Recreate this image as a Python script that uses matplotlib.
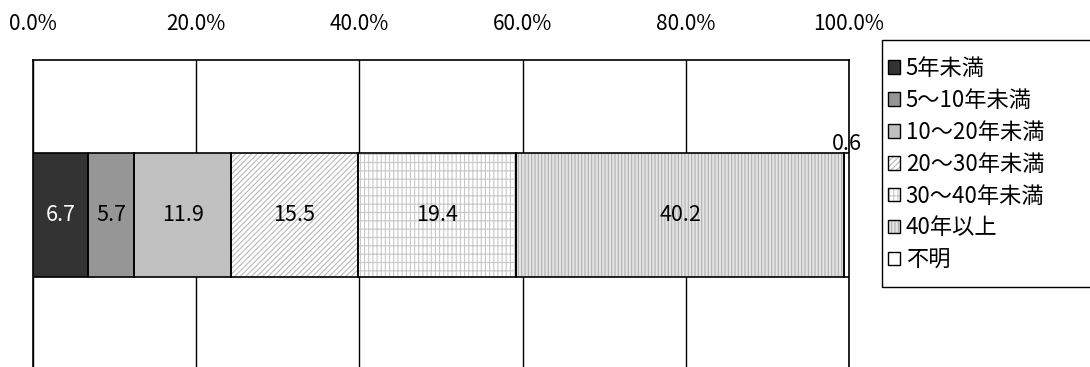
import matplotlib
matplotlib.use("Agg")
import matplotlib.pyplot as plt
from matplotlib.patches import Patch, Rectangle
import numpy as np

plt.rcParams['font.family'] = ['Noto Sans CJK JP', 'DejaVu Sans']
plt.rcParams['hatch.linewidth'] = 0.8

# data
categories = ['5年未満', '5～10年未満', '10～20年未満', '20～30年未満', '30～40年未満', '40年以上', '不明']
values = [6.7, 5.7, 11.9, 15.5, 19.4, 40.2, 0.6]
tick_vals = [0, 20, 40, 60, 80, 100]
tick_labels = ['0.0%', '20.0%', '40.0%', '60.0%', '80.0%', '100.0%']

# fill styles: facecolor, hatch, hatch colour
faces = ['#333333', '#969696', '#c0c0c0', 'white', 'white', '#e4e4e4', 'white']
hatches = [None, None, None, '//////', '||||--', '|||||', None]
hatch_cols = ['#333333', '#969696', '#c0c0c0', '#b8b8b8', '#c8c8c8', '#b0b0b0', 'white']
txt_cols = ['white', 'black', 'black', 'black', 'black', 'black', 'black']

W, H = 1090, 367
fig = plt.figure(figsize=[10.9, 3.67], dpi=100)
ax = fig.add_axes([33 / W, -0.008, (849 - 33) / W, 0.8445])

left = 0
handles = []
for i, v in enumerate(values):
    ax.barh(0, v, left=left, height=0.4, color=faces[i], hatch=hatches[i],
            edgecolor=hatch_cols[i], linewidth=0, zorder=3)
    ax.barh(0, v, left=left, height=0.4, fill=False, edgecolor='black',
            linewidth=1.2, zorder=4)
    if v >= 1:
        ax.text(left + v / 2, 0, '{:.1f}'.format(v), ha='center', va='center',
                fontsize=15.5, color=txt_cols[i], zorder=5)
    else:
        ax.text(left + v / 2, 0.195, '{:.1f}'.format(v), ha='center', va='bottom',
                fontsize=15.5, color=txt_cols[i], zorder=5)
    h1 = Patch(facecolor=faces[i], hatch=hatches[i], edgecolor=hatch_cols[i], linewidth=0)
    h2 = Patch(fill=False, edgecolor='black', linewidth=1.0)
    handles.append((h1, h2))
    left += v

ax.set_xlim(0, 100)
ax.set_ylim(-0.5, 0.5)
ax.set_xticks(tick_vals)
ax.set_xticklabels(tick_labels, fontsize=15)
ax.xaxis.tick_top()
ax.tick_params(axis='x', length=0, pad=18)
ax.set_yticks([])
ax.grid(axis='x', color='black', linewidth=1.0, zorder=1)
for s in ax.spines.values():
    s.set_color('black')
    s.set_linewidth(1.2)

# legend box drawn separately so the padding matches
fig.patches.append(Rectangle((882 / W, 1 - 287 / H), (1100 - 882) / W, 247 / H,
                             transform=fig.transFigure, fill=False,
                             edgecolor='black', linewidth=1.0))
leg = fig.legend(handles, categories, loc='upper left',
                 bbox_to_anchor=(888 / W, 1 - 57 / H),
                 fontsize=16, frameon=False,
                 handlelength=0.55, handleheight=0.55, handletextpad=0.25,
                 labelspacing=0.4, borderpad=0, borderaxespad=0)

fig.savefig('out.png', dpi=100)
